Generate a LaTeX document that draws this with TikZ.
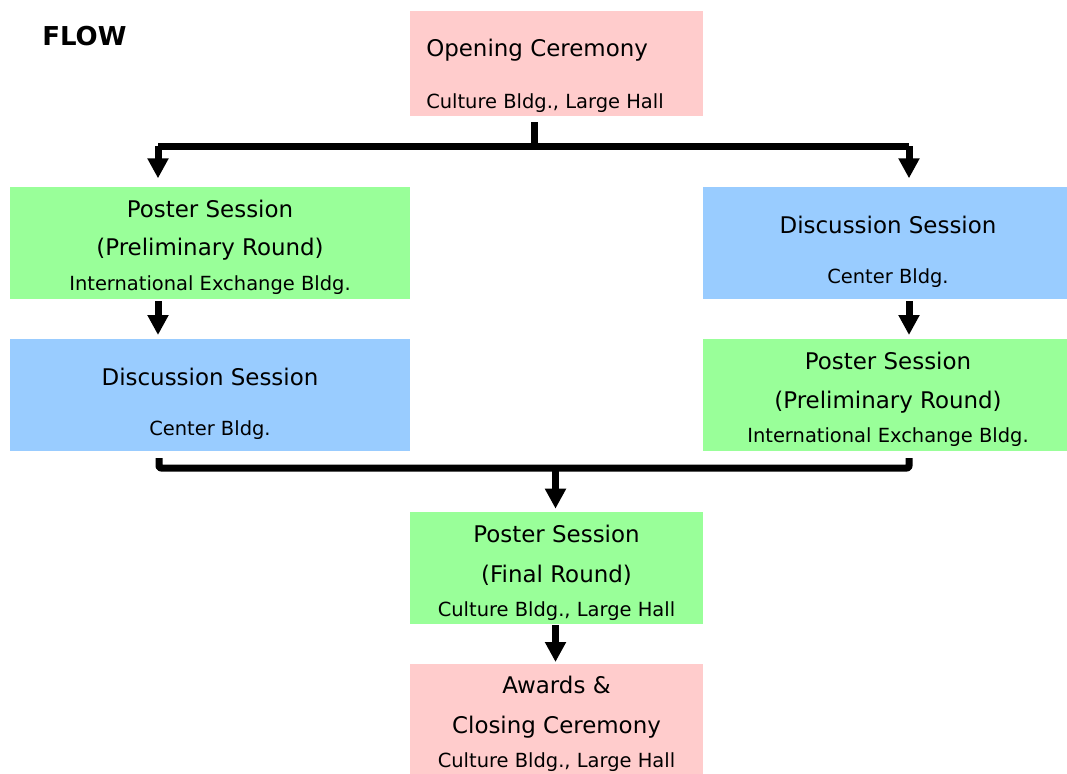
\documentclass[tikz,border=0pt]{standalone}
\usepackage{fontspec}
\setmainfont{DejaVu Sans}
\usetikzlibrary{arrows.meta}
\definecolor{cpink}{HTML}{FFCCCC}
\definecolor{cgreen}{HTML}{99FF99}
\definecolor{cblue}{HTML}{99CCFF}
\tikzset{
  box/.style={draw=none,inner sep=0pt,outer sep=0pt,rectangle},
  big/.style={font=\fontsize{17.2pt}{20pt}\selectfont,inner sep=0pt,anchor=base},
  small/.style={font=\fontsize{14.6pt}{17pt}\selectfont,inner sep=0pt,anchor=base},
  conn/.style={line width=5.25pt,line join=round,rounded corners=1.5pt},
  arr/.style={conn,-{Triangle[length=15pt,width=15pt]}},
}
\begin{document}
\begin{tikzpicture}[x=0.75pt,y=-0.75pt]
\useasboundingbox (0,0) rectangle (1067,774);
% boxes
\node[box,fill=cpink,minimum width=219.75pt,minimum height=78.75pt] (open) at (556.5,63.5) {};
\node[box,fill=cgreen,minimum width=300pt,minimum height=84pt] (posterL) at (210,243) {};
\node[box,fill=cblue,minimum width=273pt,minimum height=84pt] (discR) at (885,243) {};
\node[box,fill=cblue,minimum width=300pt,minimum height=84pt] (discL) at (210,395) {};
\node[box,fill=cgreen,minimum width=273pt,minimum height=84pt] (posterR) at (885,395) {};
\node[box,fill=cgreen,minimum width=219.75pt,minimum height=84pt] (final) at (556.5,568) {};
\node[box,fill=cpink,minimum width=219.75pt,minimum height=82.5pt] (awards) at (556.5,719) {};
% title
\node[font=\bfseries\fontsize{19.5pt}{22pt}\selectfont,inner sep=0pt,anchor=base west] (flow) at (42,45.7) {FLOW};
% texts
\node[big,anchor=base west] (t1) at (426,56.7) {Opening Ceremony};
\node[small,anchor=base west] (t2) at (426,108.3) {Culture Bldg., Large Hall};
\node[big] (t3) at (210,217.3) {Poster Session};
\node[big] (t4) at (210,255.7) {(Preliminary Round)};
\node[small] (t5) at (210,290.7) {International Exchange Bldg.};
\node[big] (t6) at (888,233.3) {Discussion Session};
\node[small] (t7) at (888,283.3) {Center Bldg.};
\node[big] (t8) at (210,385.3) {Discussion Session};
\node[small] (t9) at (210,435.3) {Center Bldg.};
\node[big] (t10) at (888,369) {Poster Session};
\node[big] (t11) at (888,408.3) {(Preliminary Round)};
\node[small] (t12) at (888,442.7) {International Exchange Bldg.};
\node[big] (t13) at (556.5,542) {Poster Session};
\node[big] (t14) at (556.5,582) {(Final Round)};
\node[small] (t15) at (556.5,616) {Culture Bldg., Large Hall};
\node[big] (t16) at (556.5,693.7) {Awards \&};
\node[big] (t17) at (556.5,733.7) {Closing Ceremony};
\node[small] (t18) at (556.5,767) {Culture Bldg., Large Hall};
% connectors
\coordinate (o1) at (534,122);
\coordinate (sl) at (158,146);
\coordinate (sr) at (909,146);
\coordinate (ml) at (159,458);
\coordinate (mr) at (909,458);
\coordinate (mc) at (555.5,468);
\draw[conn] (o1) -- (o1 |- sl);
\draw[conn] (sl) -- (sr);
\draw[arr,shorten >=6.5pt] (sl) -- (sl |- posterL.north);
\draw[arr,shorten >=6.5pt] (sr) -- (sr |- discR.north);
\draw[arr,shorten <=1.5pt,shorten >=3pt] (sl |- posterL.south) -- (sl |- discL.north);
\draw[arr,shorten <=1.5pt,shorten >=3pt] (sr |- discR.south) -- (sr |- posterR.north);
\draw[conn] (ml) |- (mc) -| (mr);
\draw[arr,shorten >=2.5pt] (mc) -- (mc |- final.north);
\draw[arr,shorten <=1pt,shorten >=1.5pt] (mc |- final.south) -- (mc |- awards.north);
\end{tikzpicture}
\end{document}
